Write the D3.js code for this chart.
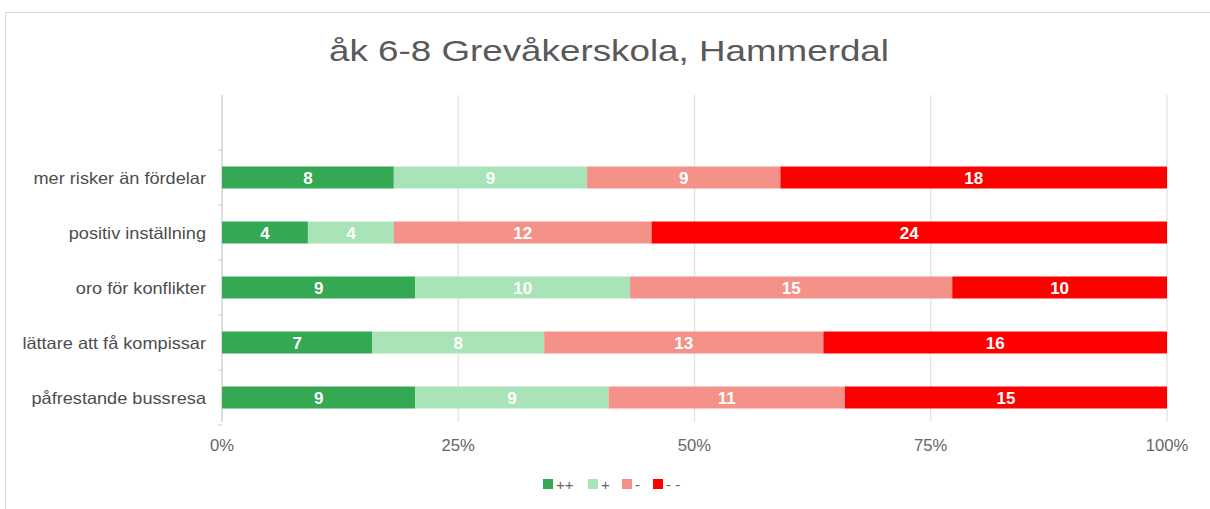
<!DOCTYPE html>
<html>
<head>
<meta charset="utf-8">
<script src="https://cdn.jsdelivr.net/npm/d3@7"></script>
<style>
  body { margin: 0; background: #fff; }
  text { font-family: "Liberation Sans", Arial, sans-serif; }
</style>
</head>
<body>
<svg id="chart"></svg>
<script>
var width = 1210,
    height = 509;

// data
var categories = ["mer risker än fördelar", "positiv inställning", "oro för konflikter", "lättare att få kompissar", "påfrestande bussresa"];
var seriesNames = ["++", "+", "-", "- -"];
var plusplus = [8, 4, 9, 7, 9];
var plus = [9, 4, 10, 8, 9];
var minus = [9, 12, 15, 13, 11];
var minusminus = [18, 24, 10, 16, 15];
var tickLabels = ["0%", "25%", "50%", "75%", "100%"];
var colors = ["#34a853", "#a8e4b8", "#f4928a", "#ff0000"];

var rows = categories.map((c, i) => {
  return { cat: c, "++": plusplus[i], "+": plus[i], "-": minus[i], "- -": minusminus[i] };
});

var svg = d3.select('#chart')
            .attr('width', width)
            .attr('height', height);

// stretch text a bit wider, the sheet renders it that way
function stretch(sel, f) {
  sel.each(function() {
    this.setAttribute('textLength', this.getComputedTextLength() * f);
    this.setAttribute('lengthAdjust', 'spacingAndGlyphs');
  });
}

// chart frame
svg.append('rect')
   .attr('x', 5.5).attr('y', 12.5)
   .attr('width', width).attr('height', height)
   .attr('fill', '#fff')
   .attr('stroke', '#d9d9d9');

svg.append('text')
   .attr('x', 609).attr('y', 61)
   .attr('text-anchor', 'middle')
   .attr('font-size', 30)
   .attr('fill', '#595959')
   .attr('textLength', 560)
   .attr('lengthAdjust', 'spacingAndGlyphs')
   .text('åk 6-8 Grevåkerskola, Hammerdal');

var plotL = 222, plotR = 1167, plotT = 95, plotB = 425;

var x = d3.scaleLinear().domain([0, 1]).range([plotL, plotR]);
// empty band on top, like the original sheet
var y = d3.scaleBand()
          .domain([""].concat(categories))
          .range([plotT, plotB])
          .paddingInner(0.6)
          .paddingOuter(0.3);

// grid
svg.append('g')
   .selectAll('line')
   .data(d3.range(0, 1.01, 0.25))
   .enter()
   .append('line')
   .attr('x1', d => x(d)).attr('x2', d => x(d))
   .attr('y1', plotT).attr('y2', plotB - 3)
   .attr('stroke', d => d === 0 ? '#cccccc' : '#e3e3e3')
   .attr('stroke-width', 1.3);

// y ticks
var bandStep = y.step();
svg.append('g')
   .selectAll('line')
   .data(d3.range(1, 7))
   .enter()
   .append('line')
   .attr('x1', plotL - 4).attr('x2', plotL)
   .attr('y1', d => plotT + d * bandStep).attr('y2', d => plotT + d * bandStep)
   .attr('stroke', '#cccccc');

var stack = d3.stack().keys(seriesNames).offset(d3.stackOffsetExpand);
var stacked = stack(rows);

var groups = svg.append('g')
   .selectAll('g')
   .data(stacked)
   .enter()
   .append('g')
   .attr('fill', (d, i) => colors[i]);

var bh = 22;
groups.selectAll('rect')
   .data(d => d)
   .enter()
   .append('rect')
   .attr('x', d => x(d[0]))
   .attr('y', d => y(d.data.cat) + y.bandwidth() / 2 - bh / 2)
   .attr('width', d => x(d[1]) - x(d[0]))
   .attr('height', bh);

groups.selectAll('text')
   .data(function(d) { var key = d.key; return d.map(p => ({ p: p, v: p.data[key] })); })
   .enter()
   .append('text')
   .attr('x', d => (x(d.p[0]) + x(d.p[1])) / 2)
   .attr('y', d => y(d.p.data.cat) + y.bandwidth() / 2 + 6)
   .attr('text-anchor', 'middle')
   .attr('font-size', 17)
   .attr('font-weight', 'bold')
   .attr('fill', '#fff')
   .text(d => d.v);

// category labels
var catLabels = svg.append('g')
   .selectAll('text')
   .data(categories)
   .enter()
   .append('text')
   .attr('x', 206)
   .attr('y', d => y(d) + y.bandwidth() / 2 + 6)
   .attr('text-anchor', 'end')
   .attr('font-size', 16.5)
   .attr('fill', '#4d4d4d')
   .text(d => d);
stretch(catLabels, 1.1);

// x tick labels
var ticks = svg.append('g')
   .selectAll('text')
   .data(tickLabels)
   .enter()
   .append('text')
   .attr('x', (d, i) => x(i / 4))
   .attr('y', 451)
   .attr('text-anchor', 'middle')
   .attr('font-size', 16)
   .attr('fill', '#666')
   .text(d => d);
stretch(ticks, 1.04);

// legend
var legendX = [543, 588, 622, 653];
var legend = svg.append('g')
   .selectAll('g')
   .data(seriesNames)
   .enter()
   .append('g')
   .attr('transform', (d, i) => 'translate(' + legendX[i] + ',479)');

legend.append('rect')
   .attr('width', 10).attr('height', 10)
   .attr('fill', (d, i) => colors[i]);

legend.append('text')
   .attr('x', 13).attr('y', 10.5)
   .attr('font-size', 15)
   .attr('fill', '#666')
   .text(d => d);
</script>
</body>
</html>
